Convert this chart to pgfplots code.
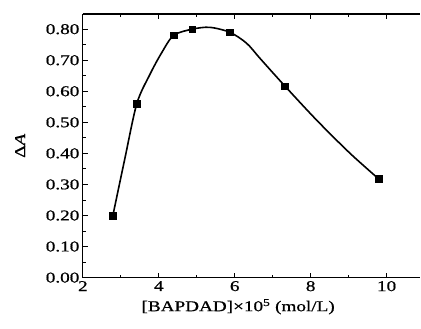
\documentclass[border=0pt]{standalone}
\usepackage{fontspec}
\setmainfont[FakeStretch=1.28,FakeBold=0.8]{Liberation Serif}
\usepackage{pgfplots}
\pgfplotsset{compat=1.18}
\begin{document}
\begin{tikzpicture}
\begin{axis}[
  scale only axis,
  width=338pt, height=264pt,
  xmin=2, xmax=10.89, ymin=0, ymax=0.849,
  axis x line=box, axis y line=left,
  y axis line style={-},
  axis line style={line width=1.2pt},
  tick align=inside,
  xtick={2,4,6,8,10},
  ytick={0,0.1,0.2,0.3,0.4,0.5,0.6,0.7,0.8},
  minor x tick num=1, minor y tick num=1,
  major tick length=5pt, minor tick length=3pt,
  tick style={line width=0.9pt,black},
  /pgf/number format/assume math mode=true,
  yticklabel style={/pgf/number format/fixed,/pgf/number format/zerofill,/pgf/number format/precision=2},
  xticklabel style={/pgf/number format/fixed},
  scaled ticks=false,
  ticklabel style={font=\fontsize{15}{17}\selectfont},
  label style={font=\fontsize{15}{17}\selectfont},
  xlabel={[BAPDAD]×10\textsuperscript{5} (mol/L)},
  ylabel={Δ\textit{A}},
  xlabel style={at={(axis description cs:0.46,0)},anchor=north,yshift=-18pt},
  ylabel style={at={(axis description cs:-0.186,0.5)},anchor=center,rotate=0},
  clip=false,
]
% fitted curve
\addplot[black, line width=1.6pt, smooth, tension=0.5, no marks]
coordinates {(2.79,0.20) (3.1,0.38) (3.42,0.56) (3.76,0.653) (4.07,0.723) (4.39,0.78) (4.88,0.80) (5.34,0.806) (5.87,0.79) (6.31,0.755) (6.68,0.704) (7.32,0.617) (8.15,0.508) (9.03,0.401) (9.79,0.318)};
% measured points
\addplot[black, only marks, mark=square*, mark size=3.3pt]
coordinates {(2.79,0.20) (3.42,0.56) (4.39,0.78) (4.88,0.80) (5.87,0.79) (7.32,0.617) (9.79,0.318)};
\end{axis}
\path (current axis.south west) ++(-83pt,-51pt);
\path (current axis.north east) ++(0pt,14pt);
\end{tikzpicture}
\end{document}
